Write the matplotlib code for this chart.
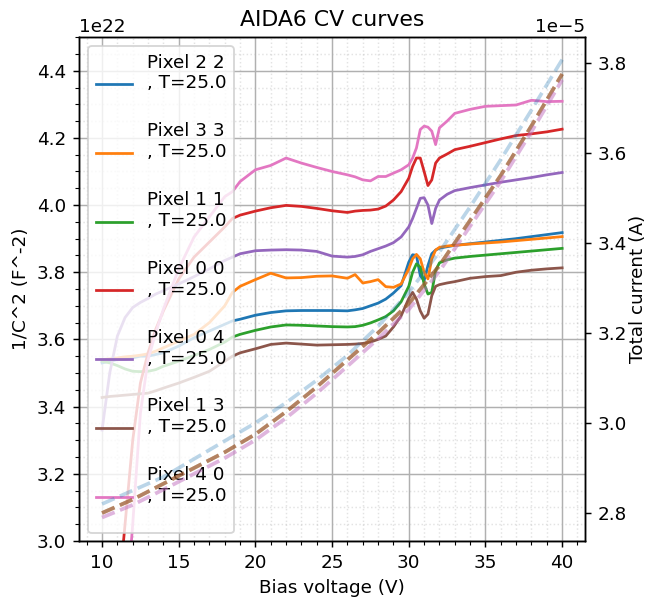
import matplotlib
matplotlib.use("Agg")
from matplotlib import pyplot as plt

# bias voltage points (V)
bias = [10, 10.5, 11, 11.5, 12, 12.5, 13, 13.5, 14, 15, 16, 17, 18, 18.5, 19, 20,
        21, 22, 23, 24, 25, 26, 26.5, 27, 27.5, 28, 28.5, 29, 29.5, 30, 30.25,
        30.5, 30.75, 31, 31.25, 31.5, 31.75, 32, 32.5, 33, 34, 35, 36, 37, 38, 39, 40]

# 1/C^2 per pixel, en unidades de 1e22 F^-2
inv_c2_22 = [3.53, 3.535, 3.54, 3.54, 3.545, 3.55, 3.55, 3.555, 3.56, 3.58, 3.605, 3.625,
             3.645, 3.655, 3.66, 3.672, 3.68, 3.685, 3.686, 3.686, 3.686, 3.685, 3.688,
             3.692, 3.70, 3.708, 3.72, 3.738, 3.76, 3.83, 3.852, 3.85, 3.79, 3.775, 3.82,
             3.855, 3.866, 3.872, 3.876, 3.88, 3.885, 3.89, 3.895, 3.90, 3.906, 3.912, 3.918]
inv_c2_33 = [3.54, 3.542, 3.545, 3.548, 3.55, 3.553, 3.557, 3.565, 3.575, 3.595, 3.615, 3.65,
             3.70, 3.74, 3.758, 3.778, 3.797, 3.783, 3.784, 3.788, 3.789, 3.782, 3.793,
             3.768, 3.772, 3.778, 3.757, 3.755, 3.765, 3.81, 3.84, 3.853, 3.84, 3.80, 3.78,
             3.84, 3.866, 3.874, 3.878, 3.88, 3.884, 3.887, 3.89, 3.894, 3.898, 3.902, 3.906]
inv_c2_11 = [3.535, 3.53, 3.522, 3.512, 3.505, 3.504, 3.505, 3.51, 3.52, 3.535, 3.552, 3.57,
             3.592, 3.607, 3.615, 3.627, 3.637, 3.643, 3.642, 3.64, 3.638, 3.637, 3.638,
             3.642, 3.649, 3.658, 3.668, 3.685, 3.712, 3.758, 3.80, 3.825, 3.815, 3.765,
             3.735, 3.74, 3.805, 3.828, 3.837, 3.842, 3.847, 3.851, 3.855, 3.859, 3.863,
             3.867, 3.871]
inv_c2_00 = [2.3, 2.6, 2.8, 3.05, 3.3, 3.47, 3.56, 3.63, 3.685, 3.78, 3.845, 3.89, 3.935,
             3.96, 3.97, 3.982, 3.992, 3.999, 3.996, 3.99, 3.983, 3.978, 3.982, 3.984,
             3.985, 3.988, 3.997, 4.015, 4.04, 4.08, 4.115, 4.14, 4.14, 4.10, 4.058, 4.075,
             4.125, 4.14, 4.152, 4.165, 4.175, 4.186, 4.197, 4.207, 4.212, 4.218, 4.226]
inv_c2_04 = [3.33, 3.50, 3.61, 3.665, 3.695, 3.71, 3.722, 3.735, 3.745, 3.765, 3.787, 3.81,
             3.835, 3.845, 3.855, 3.864, 3.866, 3.867, 3.866, 3.862, 3.848, 3.845, 3.847,
             3.852, 3.862, 3.87, 3.878, 3.888, 3.905, 3.935, 3.96, 3.99, 4.02, 4.022, 4.0,
             3.945, 3.99, 4.015, 4.032, 4.043, 4.052, 4.06, 4.068, 4.075, 4.082, 4.09, 4.097]
inv_c2_13 = [3.427, 3.43, 3.432, 3.434, 3.436, 3.438, 3.44, 3.447, 3.455, 3.47, 3.487, 3.505,
             3.535, 3.55, 3.56, 3.572, 3.585, 3.589, 3.586, 3.583, 3.584, 3.585, 3.586,
             3.588, 3.592, 3.60, 3.61, 3.637, 3.67, 3.722, 3.74, 3.72, 3.685, 3.663, 3.675,
             3.73, 3.758, 3.763, 3.768, 3.772, 3.782, 3.787, 3.79, 3.80, 3.806, 3.81, 3.813]
inv_c2_40 = [2.4, 2.55, 2.65, 2.75, 3.05, 3.38, 3.54, 3.62, 3.69, 3.81, 3.905, 3.965, 4.025,
             4.04, 4.07, 4.105, 4.118, 4.14, 4.125, 4.112, 4.10, 4.09, 4.084, 4.075, 4.072,
             4.085, 4.085, 4.095, 4.105, 4.12, 4.14, 4.17, 4.225, 4.235, 4.232, 4.22, 4.18,
             4.23, 4.25, 4.273, 4.285, 4.294, 4.296, 4.298, 4.312, 4.308, 4.309]

# corriente total (1e-5 A)
bias_i = [10, 12, 14, 16, 18, 20, 22, 24, 26, 28, 30, 32, 34, 36, 38, 40]
current_high = [2.82, 2.85, 2.88, 2.92, 2.96, 3.0, 3.045, 3.095, 3.15, 3.215, 3.29, 3.38,
                3.48, 3.585, 3.695, 3.807]
current_mid = [2.80, 2.83, 2.865, 2.90, 2.935, 2.975, 3.025, 3.08, 3.14, 3.20, 3.265, 3.35,
               3.45, 3.55, 3.66, 3.775]
current_low = [2.79, 2.818, 2.852, 2.887, 2.922, 2.962, 3.011, 3.066, 3.126, 3.187, 3.252,
               3.337, 3.437, 3.537, 3.647, 3.762]

pixels = ["2 2", "3 3", "1 1", "0 0", "0 4", "1 3", "4 0"]
temps = [25.0] * 7
cv_data = [inv_c2_22, inv_c2_33, inv_c2_11, inv_c2_00, inv_c2_04, inv_c2_13, inv_c2_40]
iv_data = [current_high, current_mid, current_mid, current_mid, current_low, current_mid,
           current_low]

fig, ax = plt.subplots(figsize=(648 / 132, 599 / 132), dpi=132)
fig.subplots_adjust(left=0.122, right=0.903, bottom=0.097, top=0.938)
ax2 = ax.twinx()

for i in range(len(pixels)):
    color = "C%d" % i
    ax.plot(bias, [v * 1e22 for v in cv_data[i]], color=color,
            label="Pixel %s\n, T=%s\n" % (pixels[i], temps[i]))
    ax2.plot(bias_i, [c * 1e-5 for c in iv_data[i]], color=color, ls="--", lw=2, alpha=0.3)

ax.set_ylim(3.0e22, 4.5e22)
ax2.set_ylim(2.738e-5, 3.857e-5)

ax.minorticks_on()
ax.grid(which="major", color="#b0b0b0", lw=0.8)
ax.grid(which="minor", color="#b0b0b0", ls=":", lw=0.8, alpha=0.35)

ax.set_title("AIDA6 CV curves")
ax.set_xlabel("Bias voltage (V)")
ax.set_ylabel("1/C^2 (F^-2)")
ax2.set_ylabel("Total current (A)", labelpad=1)
ax.legend(loc="upper left")

fig.savefig("out.png")
